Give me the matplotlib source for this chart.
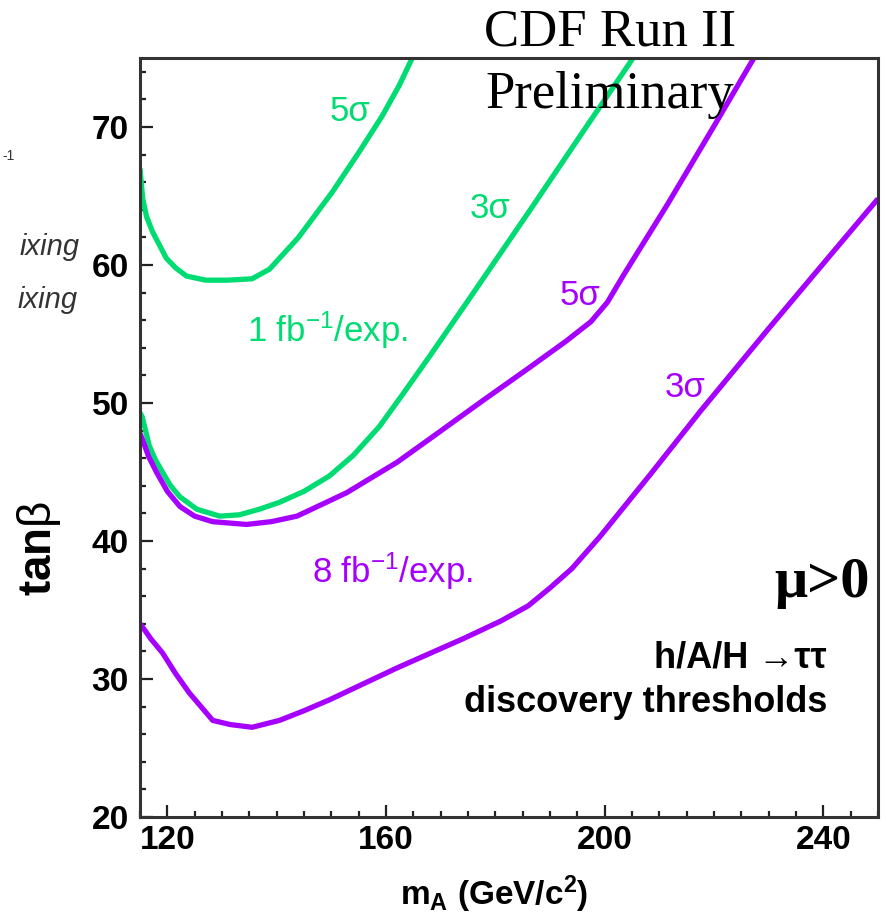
import matplotlib
matplotlib.use("Agg")
import matplotlib.pyplot as plt
from matplotlib.ticker import MultipleLocator

plt.rcParams['font.family'] = ['Liberation Sans', 'DejaVu Sans']
plt.rcParams['mathtext.fontset'] = 'custom'
plt.rcParams['mathtext.rm'] = 'Liberation Sans'
plt.rcParams['mathtext.bf'] = 'Liberation Sans:bold'
plt.rcParams['mathtext.it'] = 'Liberation Sans:italic'

# 1 fb-1 / experiment curves (green)
green5_x = [115, 115.5, 116.2, 117.3, 119.8, 121.5, 123.5, 127, 131, 135.5, 138.7, 141, 144, 150.2, 155.1, 159.3, 162.4, 164.8, 165.5]
green5_y = [67.0, 64.8, 63.5, 62.4, 60.5, 59.8, 59.2, 58.9, 58.9, 59.0, 59.7, 60.7, 62.0, 65.3, 68.2, 70.8, 73.0, 75.0, 75.6]
green3_x = [115, 115.4, 116.7, 117.8, 119.1, 120.6, 122.3, 125.4, 129.6, 133.2, 136.8, 140.5, 145, 149.6, 154, 158.8, 163, 168, 174.8, 186.9, 196.1, 205.2, 206]
green3_y = [49.3, 49.0, 46.9, 45.9, 45.0, 44.0, 43.2, 42.3, 41.8, 41.9, 42.3, 42.8, 43.6, 44.7, 46.2, 48.3, 50.6, 53.4, 57.3, 64.3, 69.7, 75.0, 75.5]

# 8 fb-1 / experiment curves (purple)
purple5_x = [115, 115.4, 116.6, 118, 120, 122.3, 125, 128.3, 134.5, 139, 143.7, 148, 152.8, 162, 168, 177.8, 186, 193, 197.5, 200.5, 203.5, 211.5, 219.9, 227.3, 228]
purple5_y = [47.8, 47.4, 46.1, 45.0, 43.6, 42.5, 41.8, 41.4, 41.2, 41.4, 41.8, 42.6, 43.5, 45.7, 47.4, 50.2, 52.5, 54.5, 55.9, 57.3, 59.3, 64.4, 70.0, 75.0, 75.5]
purple3_x = [115, 115.4, 117, 119.1, 121.5, 124, 128.3, 131.5, 135.5, 140.5, 145, 149.7, 162, 174, 181, 186, 190, 194, 199.1, 208.3, 217.5, 229.8, 241.9, 250]
purple3_y = [34.0, 33.8, 32.9, 31.9, 30.4, 29.0, 27.0, 26.7, 26.5, 27.0, 27.7, 28.5, 30.8, 32.9, 34.2, 35.3, 36.6, 38.0, 40.3, 44.8, 49.4, 55.3, 61.0, 64.8]

xticks = [120, 160, 200, 240]
yticks = [20, 30, 40, 50, 60, 70]

GREEN = '#00dc72'
PURPLE = '#a600ff'
W, H = 886, 923


def fxy(px, py):
    return px / W, 1 - py / H


fig = plt.figure(figsize=(W / 100, H / 100), dpi=100)
ax = fig.add_axes([140 / W, 1 - 817 / H, (878 - 140) / W, (817 - 58) / H])

lw = 3.8
for xs, ys, c in [(green5_x, green5_y, GREEN), (green3_x, green3_y, GREEN),
                  (purple5_x, purple5_y, PURPLE), (purple3_x, purple3_y, PURPLE)]:
    ax.plot(xs, ys, color=c, lw=lw, solid_capstyle='butt', solid_joinstyle='round')

ax.set_xlim(115, 250)
ax.set_ylim(20, 75)
ax.set_xticks(xticks)
ax.set_yticks(yticks)
ax.xaxis.set_minor_locator(MultipleLocator(5))
ax.yaxis.set_minor_locator(MultipleLocator(2))
ax.tick_params(which='both', direction='in', top=False, right=False, width=1.6, color='#222222')
ax.tick_params(which='major', length=9, labelsize=24)
ax.tick_params(axis='y', which='major', pad=8)
ax.tick_params(axis='x', which='major', pad=6)
ax.tick_params(which='minor', length=4.5)
for lab in ax.get_xticklabels() + ax.get_yticklabels():
    lab.set_fontweight('bold')
for s in ax.spines.values():
    s.set_linewidth(2.2)
    s.set_color('#333333')

ax.set_xlabel(r'$\mathbf{m_A}$ (GeV/c$^{\mathbf{2}}$)', fontsize=24, fontweight='bold')
ax.xaxis.set_label_coords(0.48, -0.075)
ax.set_ylabel(r'$\mathbf{tan}\mathrm{\beta}$', fontsize=33)
ax.yaxis.set_label_coords(-0.104, 0.354)

lab_fs = 25
ax.text(153.4, 71.1, '5σ', color=GREEN, fontsize=lab_fs, ha='center', va='center')
ax.text(179.0, 64.1, '3σ', color=GREEN, fontsize=lab_fs, ha='center', va='center')
ax.text(149.3, 55.3, r'1 fb$^{-1}$/exp.', color=GREEN, fontsize=lab_fs, ha='center', va='center')
ax.text(195.5, 57.8, '5σ', color=PURPLE, fontsize=lab_fs, ha='center', va='center')
ax.text(214.8, 51.1, '3σ', color=PURPLE, fontsize=lab_fs, ha='center', va='center')
ax.text(161.2, 37.8, r'8 fb$^{-1}$/exp.', color=PURPLE, fontsize=lab_fs, ha='center', va='center')

serif = ['Liberation Serif', 'DejaVu Serif']
fig.text(*fxy(484, 45), 'CDF Run II', family=serif, fontsize=38, va='baseline', ha='left')
fig.text(*fxy(485, 108), 'Preliminary', family=serif, fontsize=38, va='baseline', ha='left', zorder=10)
fig.text(*fxy(870, 597), 'μ>0', family=serif, fontsize=42, fontweight='bold', va='baseline', ha='right')
fig.text(*fxy(827, 668), 'h/A/H →ττ', fontsize=26, fontweight='bold', va='baseline', ha='right')
fig.text(*fxy(827, 712), 'discovery thresholds', fontsize=26, fontweight='bold', va='baseline', ha='right')

# pieces of a neighbouring legend showing at the left edge
fig.text(*fxy(2, 160), '-1', fontsize=10, color='#333333', va='baseline', ha='left')
fig.text(*fxy(20, 255), 'ixing', fontsize=21, style='italic', color='#333333', va='baseline', ha='left')
fig.text(*fxy(18, 308), 'ixing', fontsize=21, style='italic', color='#333333', va='baseline', ha='left')

fig.savefig('out.png', dpi=100)
